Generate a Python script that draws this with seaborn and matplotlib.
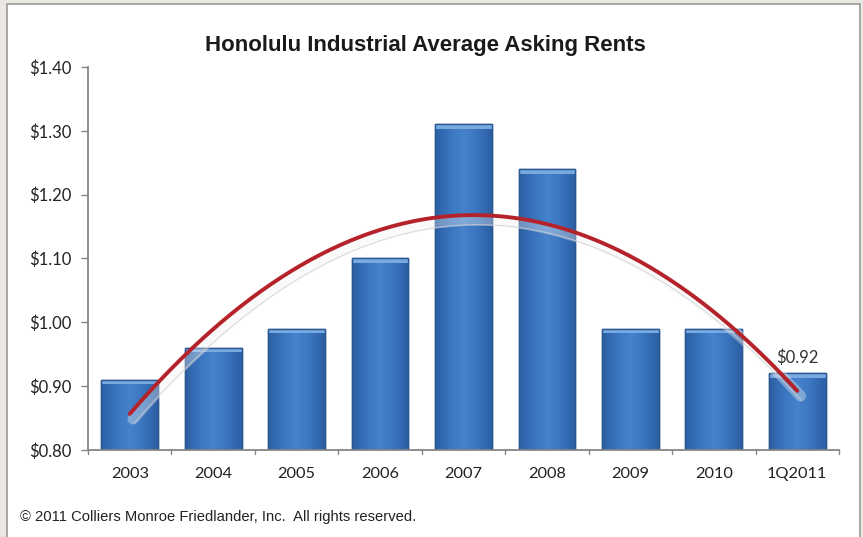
import numpy as np
import pandas as pd
import seaborn as sns
import matplotlib.pyplot as plt
from matplotlib.patches import Rectangle
from matplotlib.colors import LinearSegmentedColormap

categories = ["2003", "2004", "2005", "2006", "2007", "2008", "2009", "2010", "1Q2011"]
rents = [0.91, 0.96, 0.99, 1.10, 1.31, 1.24, 0.99, 0.99, 0.92]
yticks = [0.80, 0.90, 1.00, 1.10, 1.20, 1.30, 1.40]
title = "Honolulu Industrial Average Asking Rents"
footer = "\u00a9 2011 Colliers Monroe Friedlander, Inc.  All rights reserved."
last_label = "$0.92"

sns.set_style("white")
plt.rcParams['font.family'] = ['Lato', 'DejaVu Sans']

W, H = 863, 537
fig = plt.figure(figsize=(W / 100, H / 100), dpi=100)
fig.patch.set_facecolor("#EBE8E4")
panel = Rectangle((7 / W, -0.01), (860 - 7) / W, (H - 4) / H + 0.01,
                  transform=fig.transFigure, facecolor="white",
                  edgecolor="#9A9A9A", linewidth=1.2, zorder=-10)
fig.add_artist(panel)

ax = fig.add_axes([88 / W, 1 - 450 / H, (839 - 88) / W, (450 - 67) / H])
ax.set_facecolor("none")
ax.set_zorder(5)

df = pd.DataFrame({"cat": categories, "rent": rents})
sns.barplot(data=df, x="cat", y="rent", ax=ax, color="#3C76BE", width=0.68,
            edgecolor="#2A578F", linewidth=1.0, saturation=1, zorder=2)

ax.set_ylim(0.80, 1.40)
ax.set_xlim(-0.5, len(rents) - 0.5)

# gradient fill + bevel cap on each bar
cmap = LinearSegmentedColormap.from_list(
    "bar", ["#2C5FA3", "#3A74BE", "#4683CC", "#3A74BE", "#2C5FA3"])
grad = np.linspace(0, 1, 64).reshape(1, -1)
for p in list(ax.patches):
    x0 = p.get_x(); w = p.get_width(); h = p.get_height()
    im = ax.imshow(grad, extent=[x0, x0 + w, 0.80, h], cmap=cmap, aspect="auto",
                   zorder=2.1, interpolation="bicubic")
    im.set_clip_path(p)
    ax.add_patch(Rectangle((x0, h - 0.007), w, 0.007, facecolor="#78A9E0",
                           edgecolor="none", zorder=2.3))
    ax.add_patch(Rectangle((x0, 0.80), w, h - 0.80, facecolor="none",
                           edgecolor="#2A578F", linewidth=1.0, zorder=2.4))
ax.set_xlim(-0.5, len(rents) - 0.5)
ax.set_ylim(0.80, 1.40)

# polynomial (order 2) trendline with soft shadow
xs = np.arange(len(rents))
coef = np.polyfit(xs, rents, 2)
xx = np.linspace(0, len(rents) - 1, 200)
yy = np.polyval(coef, xx)
ax.plot(xx + 0.04, yy - 0.008, color="#F2F2F2", linewidth=8, alpha=0.35, zorder=3,
        solid_capstyle="round")
ax.plot(xx + 0.05, yy - 0.015, color="#CFCFCF", linewidth=0.7, alpha=0.8, zorder=3.1)
ax.plot(xx, yy, color="#B5222A", linewidth=2.8, zorder=4, solid_capstyle="round")

ax.text(len(rents) - 1, rents[-1] + 0.012, last_label, ha="center", va="bottom",
        fontsize=12, color="#333333")

ax.set_yticks(yticks)
ax.set_yticklabels([f"${v:.2f}" for v in yticks], fontsize=12, color="#222222")
ax.set_xticks(range(len(categories)))
ax.set_xticklabels(categories, fontsize=11.8, color="#222222")
ax.tick_params(axis="x", length=0, pad=12)
ax.tick_params(axis="y", length=5, width=1, color="#868686", direction="out", pad=7, left=True)
for b in np.arange(-0.5, len(rents), 1.0):
    ax.plot([b, b], [0.80, 0.793], color="#868686", lw=1, clip_on=False, zorder=5)
ax.set_xlabel("")
ax.set_ylabel("")
for s in ["top", "right"]:
    ax.spines[s].set_visible(False)
for s in ["left", "bottom"]:
    ax.spines[s].set_color("#868686")
    ax.spines[s].set_linewidth(1.3)

fig.text(425 / W, 1 - 45 / H, title, ha="center", va="center", fontsize=16,
         fontweight="bold", family=["Liberation Sans", "DejaVu Sans"], color="#1a1a1a")
fig.text(20 / W, 1 - 517 / H, footer, ha="left", va="center", fontsize=10.6,
         family=["Liberation Sans", "DejaVu Sans"], color="#222222")

fig.savefig("out.png", dpi=100, facecolor=fig.get_facecolor())
